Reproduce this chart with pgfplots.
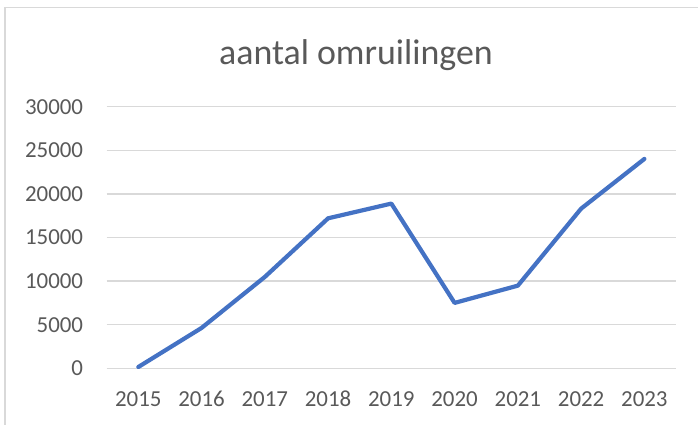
\documentclass[border=0pt]{standalone}
\usepackage{fontspec}
\setmainfont{Carlito}
\usepackage{pgfplots}
\pgfplotsset{compat=1.18}
\definecolor{txtgray}{HTML}{595959}
\definecolor{gridgray}{HTML}{D9D9D9}
\definecolor{lineblue}{HTML}{4472C4}
\begin{document}
\begin{tikzpicture}
\useasboundingbox (-106.7bp,-56.7bp) rectangle (591.3bp,368.3bp);
\begin{scope}
\clip (-106.7bp,-56.7bp) rectangle (591.3bp,368.3bp);
\draw[gridgray, line width=1.5bp] (-101.7bp,-80bp) rectangle (640bp,360.8bp);
\end{scope}
\begin{axis}[
    scale only axis,
    width=569.3bp,
    height=261.6bp,
    xmin=2014.5, xmax=2023.5,
    ymin=0, ymax=30000,
    xtick={2015,2016,2017,2018,2019,2020,2021,2022,2023},
    ytick={0,5000,10000,15000,20000,25000,30000},
    axis line style={draw=none},
    major tick length=0pt,
    tick style={draw=none},
    ymajorgrids,
    grid style={gridgray, line width=1.5bp},
    /pgf/number format/assume math mode=true,
    /pgf/number format/1000 sep={},
    scaled y ticks=false,
    tick label style={font=\fontsize{23}{28}\selectfont, text=txtgray, inner sep=0pt},
    yticklabel style={anchor=east, xshift=-23.4bp},
    xticklabel style={anchor=base, yshift=-38.4bp},
]
\addplot[lineblue, line width=4.2bp, line cap=round, line join=round] coordinates {
(2015,150) (2016,4630) (2017,10480) (2018,17200) (2019,18890)
(2020,7500) (2021,9480) (2022,18310) (2023,24010)
};
\end{axis}
\node[anchor=base, text=txtgray, font=\fontsize{36}{42}\selectfont, inner sep=0pt] at (249.3bp,303.3bp) {aantal omruilingen};
\end{tikzpicture}
\end{document}
